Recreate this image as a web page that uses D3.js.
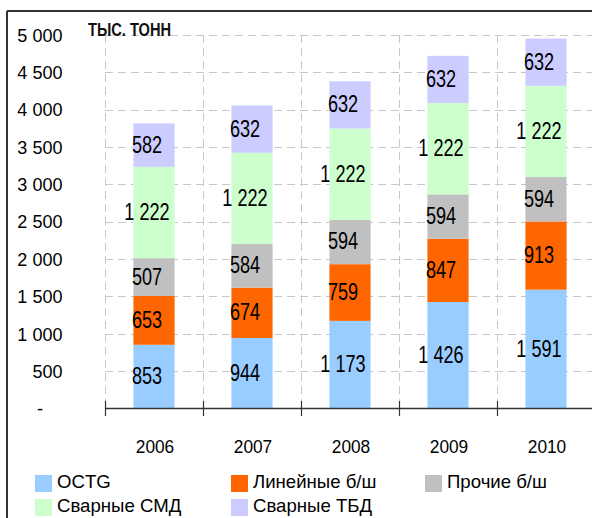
<!DOCTYPE html>
<html><head><meta charset="utf-8">
<script src="https://cdn.jsdelivr.net/npm/d3@7/dist/d3.min.js"></script>
<style>body{margin:0;background:#fff}svg{display:block;font-family:"Liberation Sans",Arial,sans-serif}</style>
</head><body><svg id="c" width="592" height="518"></svg>
<script>
const years = ["2006","2007","2008","2009","2010"];
const seriesNames = ["OCTG","Линейные б/ш","Прочие б/ш","Сварные СМД","Сварные ТБД"];
const seriesColors = ["#99ccff","#ff6600","#c0c0c0","#ccffcc","#ccccff"];
const octg = [853,944,1173,1426,1591];
const lineynye = [653,674,759,847,913];
const prochie = [507,584,594,594,594];
const svarSMD = [1222,1222,1222,1222,1222];
const svarTBD = [582,632,632,632,632];
const yTicks = [0,500,1000,1500,2000,2500,3000,3500,4000,4500,5000];
const unitLabel = "ТЫС. ТОНН";

const seriesVals = [octg,lineynye,prochie,svarSMD,svarTBD];
const rows = years.map((y,i)=>{const o={year:y};seriesNames.forEach((s,j)=>o[s]=seriesVals[j][i]);return o;});
const stack = d3.stack().keys(seriesNames)(rows);

const svg = d3.select("#c");
const x = d3.scaleBand().domain(years).range([105,595]).paddingInner(0.58).paddingOuter(0.29);
const y = d3.scaleLinear().domain([0,5000]).range([408.5,35]);
const fmt = v => v===0 ? "-" : d3.format(",")(v).replace(/,/g," ");

// frame
svg.append("line").attr("x1",7).attr("x2",592).attr("y1",11).attr("y2",11).attr("stroke","#333").attr("stroke-width",2);
svg.append("line").attr("x1",7).attr("x2",7).attr("y1",11).attr("y2",518).attr("stroke","#333").attr("stroke-width",2);

// grid
const step = x.step();
const bounds = years.map((d,i)=>105+i*step);
svg.append("g").selectAll("line").data(yTicks.filter(t=>t>0)).join("line")
  .attr("x1",105).attr("x2",592).attr("y1",d=>Math.round(y(d))+0.5).attr("y2",d=>Math.round(y(d))+0.5)
  .attr("stroke","#c8c8c8").attr("stroke-dasharray","8,5");
svg.append("g").selectAll("line").data(bounds).join("line")
  .attr("x1",d=>Math.round(d)+0.5).attr("x2",d=>Math.round(d)+0.5).attr("y1",y(5000)).attr("y2",y(0))
  .attr("stroke","#c8c8c8").attr("stroke-dasharray","8,5");

// bars
const g = svg.append("g");
stack.forEach((layer,j)=>{
  g.append("g").attr("fill",seriesColors[j]).selectAll("rect").data(layer).join("rect")
    .attr("x",d=>x(d.data.year)).attr("width",x.bandwidth())
    .attr("y",d=>y(d[1])).attr("height",d=>y(d[0])-y(d[1]));
});
// labels
stack.forEach((layer,j)=>{
  g.append("g").selectAll("text").data(layer).join("text")
    .attr("transform",d=>`translate(${x(d.data.year)+x.bandwidth()/2-7},${(y(d[0])+y(d[1]))/2-1}) scale(0.77,1)`)
    .attr("dy","0.36em")
    .attr("text-anchor","middle").attr("font-size",23.5).attr("fill","#000")
    .text(d=>fmt(d[1]-d[0]));
});

// x axis
svg.append("line").attr("x1",105).attr("x2",592).attr("y1",408.5).attr("y2",408.5).attr("stroke","#333").attr("stroke-width",1.3);
svg.append("g").selectAll("line").data(bounds).join("line")
  .attr("x1",d=>Math.round(d)+0.5).attr("x2",d=>Math.round(d)+0.5).attr("y1",401).attr("y2",416)
  .attr("stroke","#333").attr("stroke-width",1.2);
svg.append("g").selectAll("text").data(years).join("text")
  .attr("transform",d=>`translate(${x(d)+x.bandwidth()/2+1},453.3) scale(0.93,1)`)
  .attr("text-anchor","middle")
  .attr("font-size",18.6).text(d=>d);

// y tick labels
svg.append("g").selectAll("text").data(yTicks).join("text")
  .attr("transform",d=>`translate(${d===0?43:62.5},${y(d)}) scale(0.97,1)`)
  .attr("dy","0.36em").attr("text-anchor","end")
  .attr("font-size",18.6).text(fmt);

svg.append("text").attr("x",88).attr("y",36).attr("font-size",17.5).attr("font-weight","bold")
  .attr("fill","#111").attr("textLength",83).attr("lengthAdjust","spacingAndGlyphs").text(unitLabel);

// legend
const legPos = [[35,475],[231,475],[425,475],[35,499],[231,499]];
seriesNames.forEach((s,j)=>{
  const [lx,ly]=legPos[j];
  svg.append("rect").attr("x",lx).attr("y",ly).attr("width",17).attr("height",17).attr("fill",seriesColors[j]);
  svg.append("text").attr("x",lx+22).attr("y",ly+12.5).attr("font-size",18.6).text(s);
});
</script></body></html>
